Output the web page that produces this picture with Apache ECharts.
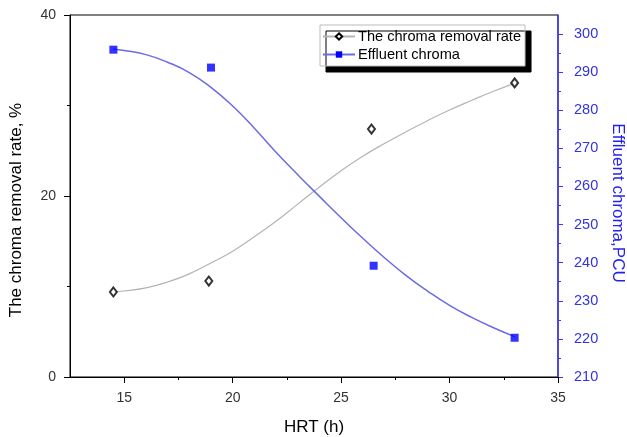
<!DOCTYPE html>
<html>
<head>
<meta charset="utf-8">
<script src="https://cdn.jsdelivr.net/npm/echarts@6/dist/echarts.min.js"></script>
<style>html,body{margin:0;padding:0;background:#fff}#c{width:627px;height:437px}</style>
</head>
<body>
<div id="c"></div>
<script>
// Measured points
var hrtRemoval = [14.5, 18.9, 26.4, 33.0];
var removalRate = [9.4, 10.6, 27.4, 32.5];
var hrtChroma = [14.5, 19.0, 26.5, 33.0];
var effluentChroma = [295.9, 291.2, 239.2, 220.3];
// Fitted curves
var curveX = [14.5, 15, 16, 17, 18, 19, 20, 21, 22, 23, 24, 25, 26, 27, 28, 29, 30, 31, 32, 33];
var removalCurve = [9.4, 9.5, 9.85, 10.5, 11.4, 12.6, 13.9, 15.5, 17.2, 19.1, 21.0, 22.8, 24.4, 25.8, 27.1, 28.35, 29.5, 30.55, 31.55, 32.45];
var chromaCurve = [296, 295.7, 294.6, 292.6, 289.9, 286.0, 281.1, 275.3, 269.0, 263.1, 257.4, 251.8, 246.4, 241.3, 236.6, 232.5, 228.8, 225.7, 223.0, 220.6];
// Axis ticks
var xMajor = [15, 20, 25, 30, 35];
var xMinor = [17.5, 22.5, 27.5, 32.5];
var rightMajor = [210, 220, 230, 240, 250, 260, 270, 280, 290, 300];

function pairs(xs, ys) { return xs.map(function (x, i) { return [x, ys[i]]; }); }

var FONT = '"Liberation Sans", Arial, sans-serif';
var chart = echarts.init(document.getElementById('c'), null, {renderer: 'canvas'});
chart.setOption({
  animation: false,
  backgroundColor: '#fff',
  textStyle: {fontFamily: FONT},
  grid: {left: 70, right: 69, top: 15, bottom: 60, outerBoundsMode: 'none', containLabel: false,
         show: true, borderColor: '#000', borderWidth: 1, backgroundColor: 'transparent'},
  legend: {
    orient: 'vertical', left: 320, top: 25,
    data: ['The chroma removal rate', 'Effluent chroma'],
    itemWidth: 32, itemHeight: 8, itemGap: 3,
    padding: [4, 4, 4, 2],
    backgroundColor: '#fff', borderColor: '#bbb', borderWidth: 1,
    shadowColor: '#000', shadowOffsetX: 6, shadowOffsetY: 6, shadowBlur: 0,
    textStyle: {fontSize: 14.6, color: '#000', fontFamily: FONT, padding: [0, 0, 0, -2]}
  },
  xAxis: [{
    type: 'value', min: 12.5, max: 35, interval: 2.5,
    name: 'HRT (h)', nameLocation: 'middle', nameGap: 42,
    nameTextStyle: {fontSize: 17, color: '#000', fontFamily: FONT},
    axisLine: {show: true, onZero: false, lineStyle: {color: '#000', width: 1}},
    axisTick: {show: true, inside: false, length: 6, customValues: xMajor, lineStyle: {color: '#000'}},
    axisLabel: {customValues: xMajor, fontSize: 14, color: '#333', margin: 14, fontFamily: FONT},
    splitLine: {show: false}
  }, {
    type: 'value', min: 12.5, max: 35, position: 'bottom',
    axisLine: {show: false},
    axisTick: {show: true, length: 3, customValues: xMinor, lineStyle: {color: '#000'}},
    axisLabel: {show: false},
    splitLine: {show: false}
  }],
  yAxis: [{
    type: 'value', min: 0, max: 40, interval: 20, position: 'left',
    name: 'The chroma removal rate, %', nameLocation: 'middle', nameGap: 45, nameRotate: 90,
    nameTextStyle: {fontSize: 17, color: '#000', fontFamily: FONT, padding: [0, 28, 0, 0]},
    axisLine: {show: true, onZero: false, lineStyle: {color: '#000'}},
    axisTick: {show: true, length: 6, lineStyle: {color: '#000'}},
    minorTick: {show: true, splitNumber: 2, length: 3, lineStyle: {color: '#000'}},
    axisLabel: {fontSize: 14, color: '#333', margin: 14, fontFamily: FONT},
    splitLine: {show: false}, minorSplitLine: {show: false}
  }, {
    type: 'value', min: 210, max: 305, interval: 10, position: 'right',
    name: 'Effluent chroma,PCU', nameLocation: 'middle', nameGap: 50, nameRotate: -90,
    nameTextStyle: {fontSize: 17, color: '#2222ee', fontFamily: FONT, padding: [0, 0, 0, 14]},
    axisLine: {show: true, onZero: false, lineStyle: {color: '#3a3aff', width: 1.5}},
    axisTick: {show: true, length: 5, customValues: rightMajor, lineStyle: {color: '#3a3aff'}},
    minorTick: {show: true, splitNumber: 2, length: 3, lineStyle: {color: '#3a3aff'}},
    axisLabel: {customValues: rightMajor, fontSize: 14.5, color: '#3333dd', margin: 16, fontFamily: FONT},
    splitLine: {show: false}, minorSplitLine: {show: false}
  }],
  series: [{
    name: 'The chroma removal rate', type: 'line', xAxisIndex: 0, yAxisIndex: 0,
    data: pairs(curveX, removalCurve), smooth: 0.5, showSymbol: false,
    symbol: 'diamond', symbolSize: [7, 9],
    itemStyle: {color: '#fff', borderColor: '#000', borderWidth: 2},
    lineStyle: {color: '#b4b4b4', width: 1.2}, z: 2
  }, {
    name: 'Effluent chroma', type: 'line', xAxisIndex: 0, yAxisIndex: 1,
    data: pairs(curveX, chromaCurve), smooth: 0.5, showSymbol: false,
    symbol: 'rect', symbolSize: 7,
    itemStyle: {color: '#0000ff'},
    lineStyle: {color: '#6b6be6', width: 1.5}, z: 2
  }, {
    name: 'The chroma removal rate', type: 'scatter', xAxisIndex: 0, yAxisIndex: 0,
    data: pairs(hrtRemoval, removalRate), symbol: 'diamond', symbolSize: [7, 9],
    itemStyle: {color: '#fff', borderColor: '#000', borderWidth: 2}, z: 5
  }, {
    name: 'Effluent chroma', type: 'scatter', xAxisIndex: 0, yAxisIndex: 1,
    data: pairs(hrtChroma, effluentChroma), symbol: 'rect', symbolSize: 8,
    itemStyle: {color: '#0000ff'}, z: 5
  }]
});
</script>
</body>
</html>
